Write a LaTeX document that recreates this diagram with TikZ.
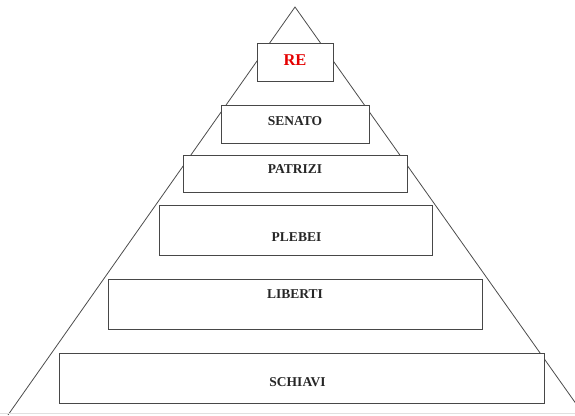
\documentclass[tikz,border=0pt]{standalone}
\usepackage{fontspec}
\setmainfont{Liberation Serif}
\begin{document}
\begin{tikzpicture}[x=1pt,y=-1pt,
  tier/.style={draw=black!72, line width=0.8pt, fill=white, inner sep=0pt, anchor=north west},
  lbl/.style={font=\bfseries\fontsize{13.5}{15}\selectfont, text=black!85, inner sep=0pt},
  kinglbl/.style={font=\bfseries\fontsize{16.5}{18}\selectfont, text=red!90!black, inner sep=0pt}]
\useasboundingbox (0,0) rectangle (575,415);
\clip (0,0) rectangle (575,415);
% pyramid
\coordinate (apex) at (295,7);
\coordinate (bl) at (8,415);
\coordinate (br) at (584,415);
\draw[black!70, line width=0.8pt] (bl) -- (apex) -- (br);
\draw[black!12, line width=0.8pt] (0,413) -- (575,413);
% tiers
\node[tier, minimum width=76pt, minimum height=38pt] (re) at (257,43) {};
\node[tier, minimum width=148pt, minimum height=38pt] (senato) at (221,105) {};
\node[tier, minimum width=224pt, minimum height=37pt] (patrizi) at (183,155) {};
\node[tier, minimum width=273pt, minimum height=50pt] (plebei) at (159,205) {};
\node[tier, minimum width=374pt, minimum height=50pt] (liberti) at (108,279) {};
\node[tier, minimum width=485pt, minimum height=50pt] (schiavi) at (59,353) {};
% labels
\node[kinglbl] (tre) at (295,60.5) {RE};
\node[lbl] (tsenato) at (295,121) {SENATO};
\node[lbl] (tpatrizi) at (295,169.5) {PATRIZI};
\node[lbl] (tplebei) at (296.5,237.5) {PLEBEI};
\node[lbl] (tliberti) at (295,294) {LIBERTI};
\node[lbl] (tschiavi) at (297.5,382.5) {SCHIAVI};
\end{tikzpicture}
\end{document}
